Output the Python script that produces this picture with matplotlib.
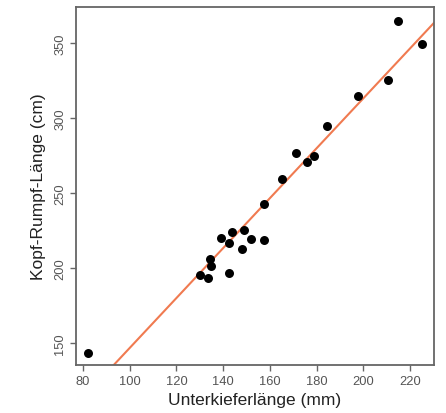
import matplotlib
matplotlib.use("Agg")
import matplotlib.pyplot as plt
import numpy as np

# Unterkieferlänge (mm) vs. Kopf-Rumpf-Länge (cm)
unterkiefer = [82.3, 130.0, 133.6, 134.3, 135.0, 142.4, 138.9, 142.6, 144.0,
               148.9, 148.1, 152.1, 157.4, 157.4, 165.3, 171.1, 175.9, 179.1,
               184.7, 197.6, 210.7, 214.9, 225.1]
kopf_rumpf = [143.3, 195.0, 193.6, 205.8, 201.3, 196.7, 220.1, 217.0, 224.1,
              225.2, 212.5, 219.6, 219.0, 243.0, 259.7, 276.6, 270.6, 274.8,
              294.4, 314.9, 325.6, 365.0, 349.6]

# regression line
intercept = -19.7
slope = 1.664

x_ticks = [80, 100, 120, 140, 160, 180, 200, 220]
y_ticks = [150, 200, 250, 300, 350]

plt.rcParams['font.family'] = ['Liberation Sans', 'DejaVu Sans']

fig = plt.figure(figsize=(4.46, 4.14), dpi=100)
ax = fig.add_axes([0.170, 0.116, 0.803, 0.865])

xlim = (76.9, 230.3)
ylim = (135.3, 374.2)

xs = np.array(xlim)
ax.plot(xs, intercept + slope * xs, color='#f07a50', lw=1.5, zorder=2)
ax.scatter(unterkiefer, kopf_rumpf, s=42, color='black', zorder=3, linewidths=0)

ax.set_xlim(*xlim)
ax.set_ylim(*ylim)
ax.set_xticks(x_ticks)
ax.set_yticks(y_ticks)
ax.set_yticklabels([str(v) for v in y_ticks], rotation=90, va='center')

for s in ax.spines.values():
    s.set_color('#666666')
    s.set_linewidth(1.3)

ax.tick_params(axis='both', colors='#666666', labelcolor='#555555',
               labelsize=9.3, length=4, width=1.0, direction='out')
ax.tick_params(axis='y', pad=3)

ax.set_xlabel('Unterkieferlänge (mm)', fontsize=12.5, color='#222222', labelpad=3)
ax.set_ylabel('Kopf-Rumpf-Länge (cm)', fontsize=12.5, color='#222222', labelpad=6)

fig.savefig('out.png', dpi=100)
